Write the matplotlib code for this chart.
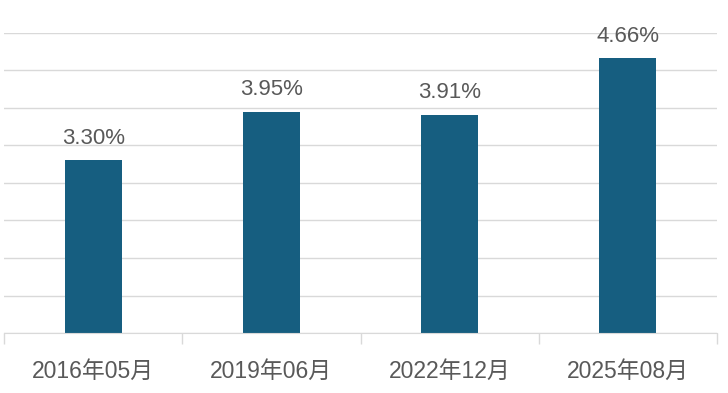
import matplotlib.pyplot as plt
import numpy as np

plt.rcParams['font.family'] = ['Liberation Sans', 'Noto Sans CJK SC']

categories = ["2016年05月", "2019年06月", "2022年12月", "2025年08月"]
values = [3.30, 3.95, 3.91, 4.66]
labels = ["3.30%", "3.95%", "3.91%", "4.66%"]

text_color = "#595959"
grid_color = "#D9D9D9"

fig = plt.figure(figsize=(7.28, 3.93), dpi=100)
ax = fig.add_axes([4/728, 1-333/393, 713/728, 300/393])

x = np.arange(len(categories))
ax.bar(x, values, width=0.32, color="#165E80", zorder=3, bottom=0)
ax.set_ylim(1, 5)
ax.set_xlim(-0.5, len(categories)-0.5)

# gridlines
ax.set_yticks(np.arange(1, 5.01, 0.5))
ax.yaxis.grid(True, color=grid_color, linewidth=1)
ax.tick_params(axis='y', length=0, labelleft=False)

# category ticks
ax.set_xticks(x)
ax.set_xticklabels(categories, fontsize=16.5, color=text_color)
ax.tick_params(axis='x', which='major', length=0, pad=19)
ax.set_xticks(np.arange(-0.5, len(categories), 1), minor=True)
ax.tick_params(axis='x', which='minor', length=8, color=grid_color, width=1)

for s in ['top', 'right', 'left']:
    ax.spines[s].set_visible(False)
ax.spines['bottom'].set_color(grid_color)
ax.spines['bottom'].set_zorder(4)

for xi, v, lab in zip(x, values, labels):
    ax.annotate(lab, (xi, v), xytext=(0, 8.5), textcoords='offset points',
                ha='center', va='bottom', fontsize=16, color=text_color)

fig.savefig("out.png", dpi=100)
